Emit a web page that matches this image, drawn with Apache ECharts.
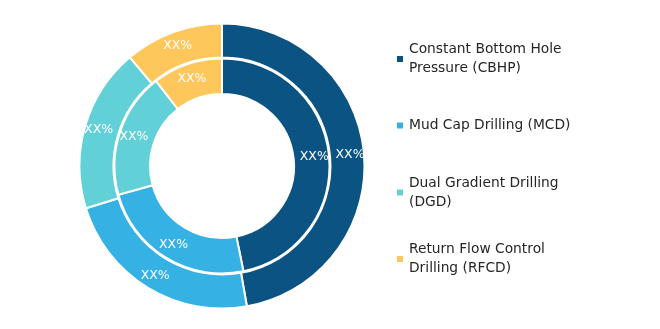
<!DOCTYPE html>
<html>
<head>
<meta charset="utf-8">
<script src="https://cdn.jsdelivr.net/npm/echarts@6/dist/echarts.min.js"></script>
<style>
  html, body { margin: 0; padding: 0; background: #fff; }
  #chart { width: 660px; height: 329px; }
</style>
</head>
<body>
<div id="chart"></div>
<script>
// Segment names, legend texts and colours
const categories = [
  'Constant Bottom Hole Pressure (CBHP)',
  'Mud Cap Drilling (MCD)',
  'Dual Gradient Drilling (DGD)',
  'Return Flow Control Drilling (RFCD)'
];
const legendTexts = [
  'Constant Bottom Hole\nPressure (CBHP)',
  'Mud Cap Drilling (MCD)',
  'Dual Gradient Drilling\n(DGD)',
  'Return Flow Control\nDrilling (RFCD)'
];
const colors = ['#0B5382', '#35B1E3', '#62D0D7', '#FEC75B'];

// Shares (%) for the outer and inner rings
const outerValues = [47.2, 23.0, 18.6, 11.2];
const innerValues = [46.8, 23.9, 18.8, 10.5];
const labelText = 'XX%';

const FONT = '"DejaVu Sans", "Liberation Sans", sans-serif';

function ring(values, radius) {
  return {
    type: 'pie',
    center: [222, 166],
    radius: radius,
    startAngle: 90,
    clockwise: true,
    avoidLabelOverlap: false,
    silent: true,
    itemStyle: { borderColor: '#ffffff', borderWidth: 2 },
    label: {
      show: true,
      position: 'inside',
      formatter: labelText,
      color: '#ffffff',
      fontSize: 12.5,
      fontFamily: FONT
    },
    labelLine: { show: false },
    data: values.map((v, i) => ({ name: categories[i], value: v, itemStyle: { color: colors[i] } }))
  };
}

// One legend block per category; two-line texts get top padding so the
// marker sits beside the first line.
const legendTops = [30.5, 116, 164, 230.5];
const legends = categories.map((name, i) => {
  const twoLine = legendTexts[i].indexOf('\n') >= 0;
  return {
    data: [name],
    left: 395,
    top: legendTops[i],
    padding: 0,
    orient: 'vertical',
    icon: 'rect',
    itemWidth: 8,
    itemHeight: 8,
    itemGap: 0,
    selectedMode: false,
    formatter: () => legendTexts[i],
    textStyle: {
      color: '#262626',
      fontSize: 13.8,
      fontFamily: FONT,
      lineHeight: 19,
      padding: twoLine ? [19, 0, 0, 0] : 0
    }
  };
});

const chart = echarts.init(document.getElementById('chart'), null, { renderer: 'canvas' });
chart.setOption({
  animation: false,
  backgroundColor: '#ffffff',
  color: colors,
  legend: legends,
  series: [
    ring(innerValues, [72, 107.5]),
    ring(outerValues, [108.5, 142.5])
  ]
});
</script>
</body>
</html>
